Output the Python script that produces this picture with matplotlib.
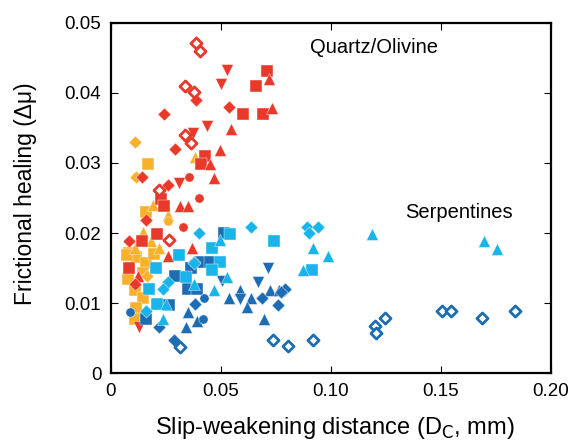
import matplotlib
matplotlib.use("Agg")
import matplotlib.pyplot as plt

plt.rcParams['font.family'] = ['Liberation Sans', 'DejaVu Sans']

# colours
RED = '#E8392B'
ORANGE = '#F8B12C'
DARK = '#1D6DB5'
LIGHT = '#18B4EA'

# ---- Quartz / Olivine (red) ----
red_diamond_x = [0.0387, 0.0239, 0.0538, 0.0290, 0.0139, 0.0259, 0.0160, 0.0080, 0.0107]
red_diamond_y = [0.0390, 0.0370, 0.0380, 0.0320, 0.0280, 0.0269, 0.0219, 0.0189, 0.0128]
red_open_x = [0.0387, 0.0405, 0.0338, 0.0376, 0.0338, 0.0366, 0.0217, 0.0266]
red_open_y = [0.0471, 0.0460, 0.0410, 0.0401, 0.0340, 0.0329, 0.0261, 0.0190]
red_down_x = [0.0529, 0.0499, 0.0437, 0.0372, 0.0309, 0.0129]
red_down_y = [0.0432, 0.0413, 0.0352, 0.0342, 0.0271, 0.0066]
red_square_x = [0.0708, 0.0660, 0.0599, 0.0690, 0.0429, 0.0410, 0.0228, 0.0239, 0.0210, 0.0139, 0.0084]
red_square_y = [0.0431, 0.0410, 0.0370, 0.0370, 0.0310, 0.0299, 0.0248, 0.0238, 0.0199, 0.0189, 0.0150]
red_up_x = [0.0717, 0.0731, 0.0547, 0.0497, 0.0448, 0.0467, 0.0313, 0.0350, 0.0369, 0.0258, 0.0125]
red_up_y = [0.0420, 0.0379, 0.0349, 0.0319, 0.0299, 0.0278, 0.0238, 0.0238, 0.0178, 0.0167, 0.0139]
red_circle_x = [0.0353, 0.0402, 0.0329]
red_circle_y = [0.0280, 0.0250, 0.0209]

# ---- Quartz / Olivine (orange) ----
org_diamond_x = [0.0108, 0.0113, 0.0164]
org_diamond_y = [0.0330, 0.0280, 0.0139]
org_square_x = [0.0168, 0.0157, 0.0081, 0.0114, 0.0157, 0.0144, 0.0074, 0.0107, 0.0144, 0.0114, 0.0111, 0.0194, 0.0076]
org_square_y = [0.0299, 0.0230, 0.0171, 0.0166, 0.0157, 0.0143, 0.0169, 0.0119, 0.0107, 0.0093, 0.0078, 0.0170, 0.0135]
org_up_x = [0.0384, 0.0190, 0.0258, 0.0144, 0.0183, 0.0107, 0.0220]
org_up_y = [0.0309, 0.0240, 0.0226, 0.0202, 0.0188, 0.0178, 0.0178]
org_circle_x = [0.0258]
org_circle_y = [0.0217]

# ---- Serpentines (dark blue) ----
dk_square_x = [0.0516, 0.0410, 0.0448, 0.0292, 0.0363, 0.0349, 0.0390, 0.0266, 0.0160]
dk_square_y = [0.0200, 0.0159, 0.0159, 0.0139, 0.0150, 0.0120, 0.0120, 0.0097, 0.0077]
dk_diamond_x = [0.0383, 0.0219, 0.0285, 0.0687, 0.0758, 0.0791, 0.0773, 0.0379]
dk_diamond_y = [0.0099, 0.0066, 0.0048, 0.0108, 0.0097, 0.0120, 0.0116, 0.0159]
dk_down_x = [0.0716, 0.0667, 0.0587, 0.0505]
dk_down_y = [0.0150, 0.0130, 0.0106, 0.0131]
dk_up_x = [0.0587, 0.0538, 0.0637, 0.0617, 0.0725, 0.0766, 0.0697, 0.0349, 0.0342, 0.0390]
dk_up_y = [0.0119, 0.0108, 0.0108, 0.0095, 0.0119, 0.0119, 0.0078, 0.0087, 0.0066, 0.0074]
dk_circle_x = [0.0425, 0.0417, 0.0086]
dk_circle_y = [0.0108, 0.0078, 0.0088]
dk_open_x = [0.0314, 0.0738, 0.0806, 0.0917, 0.1200, 0.1206, 0.1247, 0.1507, 0.1548, 0.1688, 0.1838]
dk_open_y = [0.0038, 0.0048, 0.0039, 0.0048, 0.0068, 0.0057, 0.0079, 0.0089, 0.0089, 0.0079, 0.0089]

# ---- Serpentines (light blue) ----
lt_square_x = [0.0542, 0.0740, 0.0459, 0.0497, 0.0458, 0.0308, 0.0205, 0.0342, 0.0175, 0.0210, 0.0914]
lt_square_y = [0.0199, 0.0189, 0.0179, 0.0159, 0.0148, 0.0169, 0.0150, 0.0138, 0.0120, 0.0099, 0.0148]
lt_diamond_x = [0.0399, 0.0637, 0.0379, 0.0258, 0.0235, 0.0157, 0.0890, 0.0940, 0.0899]
lt_diamond_y = [0.0200, 0.0209, 0.0158, 0.0130, 0.0120, 0.0089, 0.0209, 0.0209, 0.0200]
lt_up_x = [0.0496, 0.0526, 0.0379, 0.0467, 0.0251, 0.0235, 0.0917, 0.0988, 0.0875, 0.1189, 0.1698, 0.1757]
lt_up_y = [0.0190, 0.0138, 0.0128, 0.0119, 0.0099, 0.0078, 0.0178, 0.0167, 0.0148, 0.0199, 0.0188, 0.0177]

fig = plt.figure(figsize=(5.75, 4.41), dpi=100)
ax = fig.add_axes([0.193, 0.1535, 0.765, 0.795])

SZ = {'s': 86, 'D': 44, '^': 74, 'v': 74, 'o': 44}


def pts(x, y, m, c, hollow=False):
    if hollow:
        ax.scatter(x, y, marker=m, s=32, facecolors='white',
                   edgecolors=c, linewidths=2.0, zorder=3)
    else:
        ax.scatter(x, y, marker=m, s=SZ[m], c=c, edgecolors='white',
                   linewidths=0.3, zorder=3)


# orange first, then red, then blues on top
pts(org_square_x, org_square_y, 's', ORANGE)
pts(org_up_x, org_up_y, '^', ORANGE)
pts(org_diamond_x, org_diamond_y, 'D', ORANGE)
pts(org_circle_x, org_circle_y, 'o', ORANGE)

pts(red_square_x, red_square_y, 's', RED)
pts(red_up_x, red_up_y, '^', RED)
pts(red_down_x, red_down_y, 'v', RED)
pts(red_diamond_x, red_diamond_y, 'D', RED)
pts(red_circle_x, red_circle_y, 'o', RED)
pts(red_open_x, red_open_y, 'D', RED, hollow=True)

pts(dk_square_x, dk_square_y, 's', DARK)
pts(dk_up_x, dk_up_y, '^', DARK)
pts(dk_down_x, dk_down_y, 'v', DARK)
pts(dk_diamond_x, dk_diamond_y, 'D', DARK)
pts(dk_circle_x, dk_circle_y, 'o', DARK)
pts(dk_open_x, dk_open_y, 'D', DARK, hollow=True)

pts(lt_square_x, lt_square_y, 's', LIGHT)
pts(lt_up_x, lt_up_y, '^', LIGHT)
pts(lt_diamond_x, lt_diamond_y, 'D', LIGHT)

ax.set_xlim(0, 0.20)
ax.set_ylim(0, 0.05)
ax.set_xticks([0, 0.05, 0.10, 0.15, 0.20])
ax.set_xticklabels(['0', '0.05', '0.10', '0.15', '0.20'])
ax.set_yticks([0, 0.01, 0.02, 0.03, 0.04, 0.05])
ax.set_yticklabels(['0', '0.01', '0.02', '0.03', '0.04', '0.05'])
ax.tick_params(direction='in', length=5, width=0.8, labelsize=13.5,
               top=True, right=True, pad=7)
for sp in ax.spines.values():
    sp.set_linewidth(1.6)

ax.set_xlabel('Slip-weakening distance (D$_\\mathrm{C}$, mm)', fontsize=17)
ax.set_ylabel('Frictional healing (\u0394\u03bc)', fontsize=16.5)
ax.xaxis.set_label_coords(0.51, -0.118)
ax.yaxis.set_label_coords(-0.168, 0.512)

ax.text(0.1197, 0.0464, 'Quartz/Olivine', fontsize=14.5, ha='center', va='center')
ax.text(0.1583, 0.0230, 'Serpentines', fontsize=14.5, ha='center', va='center')

fig.savefig('out.png', dpi=100)
